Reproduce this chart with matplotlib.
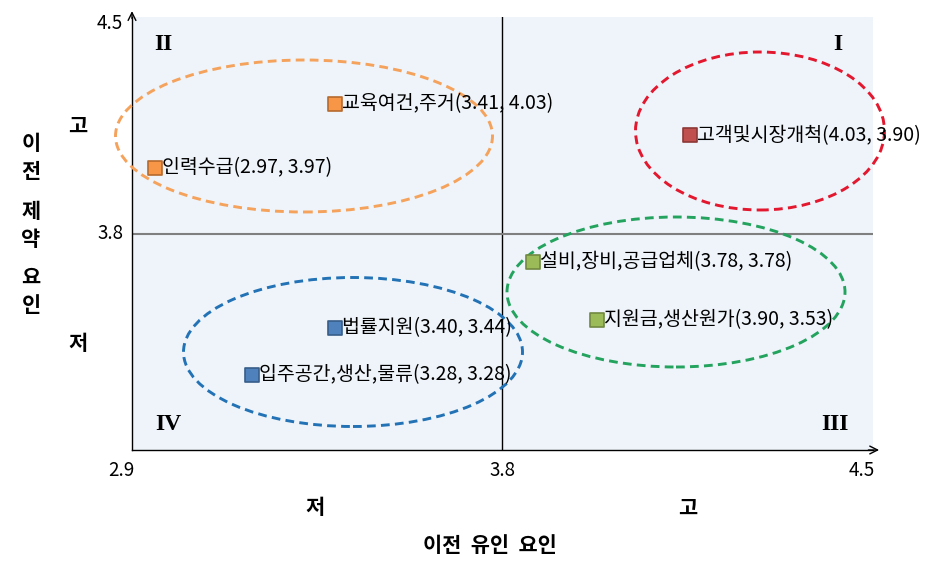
import numpy as np
import matplotlib
matplotlib.use("Agg")
import matplotlib.pyplot as plt
from matplotlib.patches import Ellipse

plt.rcParams['font.family'] = ['Noto Sans CJK KR', 'DejaVu Sans']

# ---- data ----
names = ['인력수급', '교육여건,주거', '고객및시장개척', '설비,장비,공급업체',
         '지원금,생산원가', '법률지원', '입주공간,생산,물류']
x_vals = [2.97, 3.41, 4.03, 3.78, 3.90, 3.40, 3.28]
y_vals = [3.97, 4.03, 3.90, 3.78, 3.53, 3.44, 3.28]
# where each marker is drawn on the chart's (piecewise) axes
x_plot = [2.956, 3.393, 4.154, 3.858, 3.979, 3.393, 3.191]
y_plot = [4.012, 4.219, 4.118, 3.682, 3.440, 3.407, 3.212]
groups = ['orange', 'orange', 'red', 'green', 'green', 'blue', 'blue']
axis_ticks = [2.9, 3.8, 4.5]

face = {'orange': '#F79646', 'red': '#C0504D', 'green': '#9BBB59', 'blue': '#4F81BD'}
edge = {'orange': '#B66A2E', 'red': '#8C3836', 'green': '#71893F', 'blue': '#385D8A'}

# piecewise-linear scale: 2.9..3.8 and 3.8..4.5 each take half of the axis
def fwd(v):
    v = np.asarray(v, dtype=float)
    return np.where(v <= 3.8, (v - 2.9) / 0.9, 1 + (v - 3.8) / 0.7)

def inv(u):
    u = np.asarray(u, dtype=float)
    return np.where(u <= 1, 2.9 + u * 0.9, 3.8 + (u - 1) * 0.7)

fig = plt.figure(figsize=(9.43, 5.73), dpi=100)
ax = fig.add_axes([132 / 943, 1 - 450 / 573, 741 / 943, 433 / 573])
ax.set_xscale('function', functions=(fwd, inv))
ax.set_yscale('function', functions=(fwd, inv))
ax.set_xlim(axis_ticks[0], axis_ticks[-1])
ax.set_ylim(axis_ticks[0], axis_ticks[-1])
ax.set_facecolor('#EEF4FA')
for s in ['top', 'right']:
    ax.spines[s].set_visible(False)
for s in ['left', 'bottom']:
    ax.spines[s].set_linewidth(1.0)
    ax.spines[s].set_color('black')
ax.set_xticks([])
ax.set_yticks([])
ax.minorticks_off()

# arrows at axis ends
ax.annotate('', xy=(1.012, 0), xytext=(0.99, 0), xycoords='axes fraction',
            arrowprops=dict(arrowstyle='->', lw=1.0, color='black', mutation_scale=14),
            annotation_clip=False)
ax.annotate('', xy=(0, 1.02), xytext=(0, 0.99), xycoords='axes fraction',
            arrowprops=dict(arrowstyle='->', lw=1.0, color='black', mutation_scale=14),
            annotation_clip=False)

# quadrant divider lines
ax.axvline(axis_ticks[1], color='black', lw=1.0)
ax.axhline(axis_ticks[1], color='#7F7F7F', lw=1.5)

# tick labels
tk = dict(fontsize=13.5, color='black')
ax.text(-0.012, 0.985, '4.5', transform=ax.transAxes, ha='right', va='center', **tk)
ax.text(-0.012, 0.5, '3.8', transform=ax.transAxes, ha='right', va='center', **tk)
ax.text(-0.014, -0.022, '2.9', transform=ax.transAxes, ha='center', va='top', **tk)
ax.text(0.5, -0.022, '3.8', transform=ax.transAxes, ha='center', va='top', **tk)
ax.text(0.985, -0.022, '4.5', transform=ax.transAxes, ha='center', va='top', **tk)

# ellipses (axes fraction)
ell = [('#F5A35C', 304, 136, 377, 152),
       ('#E3172E', 760, 131, 249, 158),
       ('#24A35E', 676, 292, 338, 150),
       ('#2272B5', 353, 352, 339, 149)]
for c, cx, cy, w, h in ell:
    e = Ellipse(((cx - 132) / 741, (450 - cy) / 433), w / 741, h / 433,
                transform=ax.transAxes, fill=False, edgecolor=c, lw=2.1,
                linestyle=(0, (3.0, 1.8)), clip_on=False, zorder=3)
    ax.add_patch(e)

# markers and labels
for n, xv, yv, xp, yp, g in zip(names, x_vals, y_vals, x_plot, y_plot, groups):
    ax.scatter([xp], [yp], marker='s', s=100, color=face[g], edgecolors=edge[g],
               linewidths=1.2, zorder=5, clip_on=False)
    ax.annotate(f'{n}({xv:.2f}, {yv:.2f})', xy=(xp, yp), xytext=(5.0, 0),
                textcoords='offset points', ha='left', va='center',
                fontsize=14, color='black', zorder=6, annotation_clip=False)

# quadrant labels
ql = dict(fontsize=17, fontweight='bold', family='Liberation Serif', ha='center', va='center')
ax.text((163 - 132) / 741, (450 - 44) / 433, 'II', transform=ax.transAxes, **ql)
ax.text((838 - 132) / 741, (450 - 45) / 433, 'I', transform=ax.transAxes, **ql)
ax.text((168 - 132) / 741, (450 - 424) / 433, 'IV', transform=ax.transAxes, **ql)
ax.text((835 - 132) / 741, (450 - 424) / 433, 'III', transform=ax.transAxes, **ql)

# axis titles
bt = dict(fontsize=15, fontweight='bold', ha='center', va='center', color='black')
fig.text(315 / 943, 1 - 508 / 573, '저', **bt)
fig.text(688 / 943, 1 - 508 / 573, '고', **bt)
fig.text(490 / 943, 1 - 546 / 573, '이전  유인  요인', **bt)
fig.text(78 / 943, 1 - 126 / 573, '고', **bt)
fig.text(78 / 943, 1 - 343 / 573, '저', **bt)
for ch, yy in zip(['이', '전', '제', '약', '요', '인'], [143, 172, 212, 240, 277, 306]):
    fig.text(31 / 943, 1 - yy / 573, ch, **bt)

fig.savefig('out.png', dpi=100, facecolor='white')
